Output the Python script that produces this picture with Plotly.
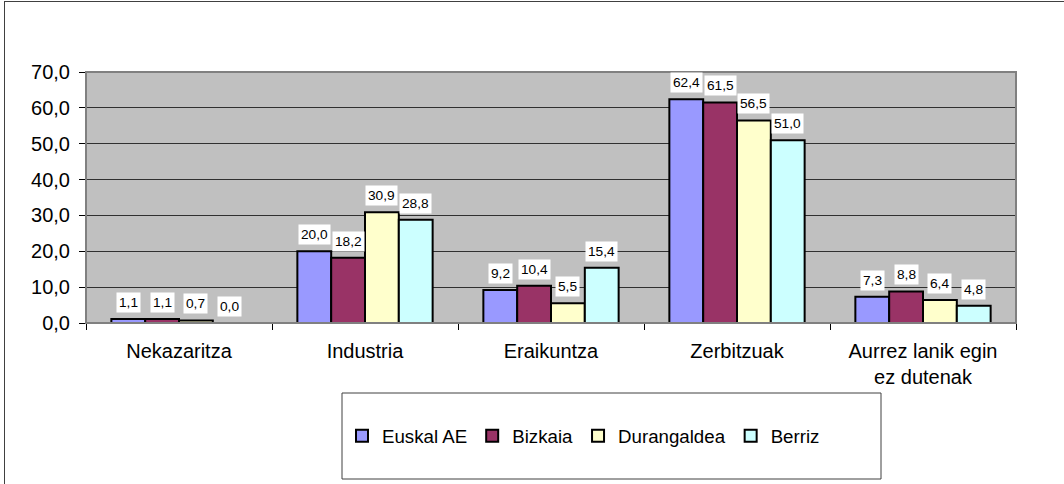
import plotly.graph_objects as go

categories = ["Nekazaritza", "Industria", "Eraikuntza", "Zerbitzuak", "Aurrez lanik egin<br>ez dutenak"]
series_names = ["Euskal AE", "Bizkaia", "Durangaldea", "Berriz"]
euskal_ae = [1.1, 20.0, 9.2, 62.4, 7.3]
bizkaia = [1.1, 18.2, 10.4, 61.5, 8.8]
durangaldea = [0.7, 30.9, 5.5, 56.5, 6.4]
berriz = [0.0, 28.8, 15.4, 51.0, 4.8]
y_ticks = [0, 10, 20, 30, 40, 50, 60, 70]

series_values = [euskal_ae, bizkaia, durangaldea, berriz]
colors = ["#9999FF", "#993366", "#FFFFCC", "#CCFFFF"]

FONT = "Liberation Sans, Arial, sans-serif"
W, H = 1064, 484
# plot area in window pixels: x 86..1016, y 72..323
ML, MT = 86, 72
MR = W - 1016
MB = H - 323
PW, PH = W - ML - MR, H - MT - MB

def px_x(px):
    return (px - ML) / PW

def px_y(py):
    return (H - MB - py) / PH

n = len(series_names)
bar_w = 1.0 / (n + 1.5)
group_w = bar_w * n

fig = go.Figure()
annotations = []
x_idx = list(range(len(categories)))
for k, (name, vals, col) in enumerate(zip(series_names, series_values, colors)):
    off = -group_w / 2 + k * bar_w
    fig.add_trace(go.Bar(
        x=categories, y=vals, name=name,
        width=bar_w, offset=off,
        marker=dict(color=col, line=dict(color="black", width=2)),
    ))
    for i, v in zip(x_idx, vals):
        annotations.append(dict(
            x=i + off + bar_w / 2, y=v, xref="x", yref="y",
            text=f"{v:.1f}".replace(".", ","), showarrow=False,
            yanchor="bottom", yshift=6, bgcolor="white", borderpad=2,
            font=dict(family=FONT, size=13.7, color="black"),
        ))

shapes = [
    # plot area border
    dict(type="rect", xref="paper", yref="paper", x0=0, x1=1, y0=0, y1=1,
         line=dict(color="#808080", width=2), layer="above"),
    # legend box
    dict(type="rect", xref="paper", yref="paper",
         x0=px_x(342), x1=px_x(881), y0=px_y(479), y1=px_y(393),
         line=dict(color="#404040", width=1), fillcolor="white", layer="below"),
    # outer chart border (left and top edges)
    dict(type="line", xref="paper", yref="paper",
         x0=px_x(4.5), x1=px_x(4.5), y0=px_y(1), y1=px_y(490),
         line=dict(color="#404040", width=1)),
    dict(type="line", xref="paper", yref="paper",
         x0=px_x(4.5), x1=px_x(1070), y0=px_y(1.5), y1=px_y(1.5),
         line=dict(color="#404040", width=1)),
]

fig.update_layout(
    width=W, height=H,
    margin=dict(l=ML, r=MR, t=MT, b=MB, pad=0),
    paper_bgcolor="white", plot_bgcolor="#C0C0C0",
    separators=", ",
    barmode="overlay",
    font=dict(family=FONT, size=20, color="black"),
    showlegend=True,
    legend=dict(
        orientation="h", x=px_x(342), xanchor="left",
        y=px_y(436), yanchor="middle",
        font=dict(family=FONT, size=18.7, color="black"),
        bgcolor="rgba(0,0,0,0)", borderwidth=0,
        itemwidth=30, traceorder="normal",
    ),
    annotations=annotations,
    shapes=shapes,
)

fig.update_xaxes(
    type="category", tickson="boundaries", ticks="outside", ticklen=6,
    tickcolor="black", showline=True, linecolor="black", linewidth=1,
    showgrid=False, ticklabelstandoff=10,
    tickfont=dict(family=FONT, size=20, color="black"),
    range=[-0.5, len(categories) - 0.5],
)
fig.update_yaxes(
    range=[0, 70], tickvals=y_ticks, tickformat=".1f",
    ticks="outside", ticklen=6, tickcolor="black",
    showline=True, linecolor="black", linewidth=1,
    showgrid=True, gridcolor="#303030", gridwidth=1,
    zeroline=False, ticklabelstandoff=5,
    tickfont=dict(family=FONT, size=20, color="black"),
)

fig.write_html(
    "out.html",
    config={"displayModeBar": False},
    post_script="document.body.style.margin='0';document.body.style.overflow='hidden';",
)
